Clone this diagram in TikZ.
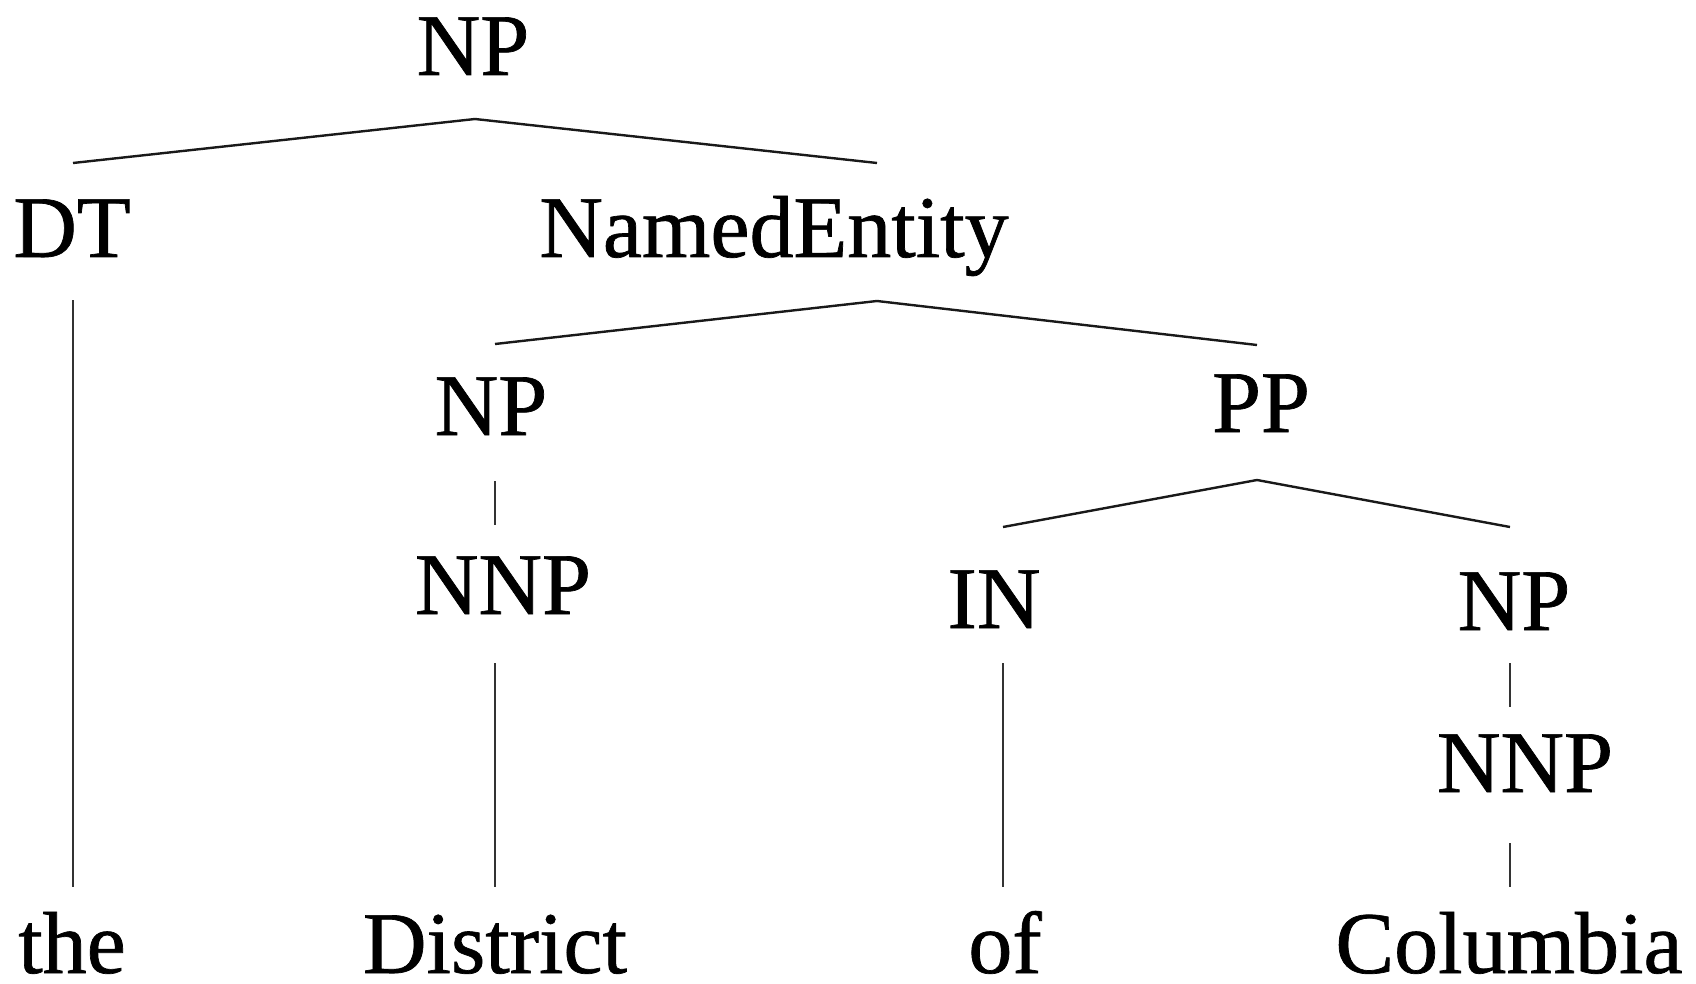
\documentclass[tikz,border=0pt]{standalone}
\usepackage{fontspec}
\setmainfont{Liberation Serif}
\newfontfamily\treefont[FakeBold=0.8]{Liberation Serif}
\usepackage{tikz}
\tikzset{
  lbl/.style={anchor=base,inner sep=0pt,font=\treefont\fontsize{88}{100}\selectfont},
  branch/.style={line width=2.4pt,black!90},
  stem/.style={line width=1.8pt,black!80}
}

\begin{document}
\begin{tikzpicture}[x=1pt,y=-1pt]
  \useasboundingbox (0,0) rectangle (1696,984);
  % labels
  \node[lbl] (np0) at (473,75) {NP};
  \node[lbl] (dt) at (72,257) {DT};
  \node[lbl] (ne) at (774,257) {NamedEntity};
  \node[lbl] (np1) at (491,435) {NP};
  \node[lbl] (pp) at (1261,432) {PP};
  \node[lbl] (nnp1) at (503,614) {NNP};
  \node[lbl] (in) at (994,628) {IN};
  \node[lbl] (np2) at (1514,630) {NP};
  \node[lbl] (nnp2) at (1525,792) {NNP};
  \node[lbl] (the) at (72,973) {the};
  \node[lbl] (district) at (495,973) {District};
  \node[lbl] (of) at (1005,973) {of};
  \node[lbl] (columbia) at (1509,973) {Columbia};
  % joints
  \coordinate (np0-a) at (475,119);
  \coordinate (dt-n) at (73,163);
  \coordinate (ne-n) at (877,163);
  \coordinate (dt-s) at (73,300);
  \coordinate (ne-a) at (877,301);
  \coordinate (np1-n) at (495,344);
  \coordinate (pp-n) at (1257,345);
  \coordinate (np1-s) at (495,481);
  \coordinate (nnp1-n) at (495,525);
  \coordinate (nnp1-s) at (495,663);
  \coordinate (pp-a) at (1257,480);
  \coordinate (in-n) at (1003,527);
  \coordinate (np2-n) at (1510,527);
  \coordinate (in-s) at (1003,663);
  \coordinate (np2-s) at (1510,663);
  \coordinate (nnp2-n) at (1510,707);
  \coordinate (nnp2-s) at (1510,843);
  \coordinate (the-n) at (73,887);
  \coordinate (district-n) at (495,887);
  \coordinate (of-n) at (1003,887);
  \coordinate (columbia-n) at (1510,887);
  % branches
  \draw[branch] (dt-n) -- (np0-a) -- (ne-n);
  \draw[branch] (np1-n) -- (ne-a) -- (pp-n);
  \draw[branch] (in-n) -- (pp-a) -- (np2-n);
  % unary stems
  \draw[stem] (dt-s) -- (the-n);
  \draw[stem] (np1-s) -- (nnp1-n);
  \draw[stem] (nnp1-s) -- (district-n);
  \draw[stem] (in-s) -- (of-n);
  \draw[stem] (np2-s) -- (nnp2-n);
  \draw[stem] (nnp2-s) -- (columbia-n);
\end{tikzpicture}
\end{document}
